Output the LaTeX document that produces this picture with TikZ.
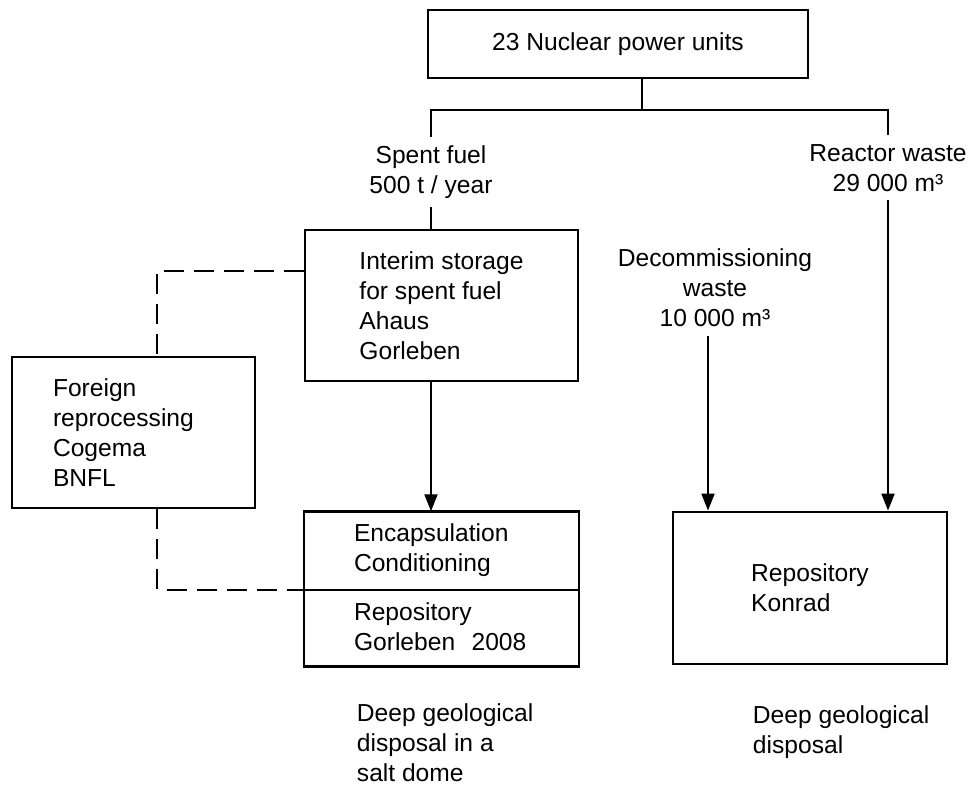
\documentclass[tikz,border=0pt]{standalone}
\usepackage{fontspec}
\setmainfont{Liberation Sans}
\usetikzlibrary{arrows.meta}

\begin{document}
\begin{tikzpicture}[line width=1.1pt, font=\fontsize{14}{17}\selectfont,
    box/.style={draw, line width=1.6pt, align=left},
    part/.style={align=left, text width=3.5cm, minimum width=5.46cm, minimum height=1.53cm},
    lbl/.style={align=center, inner sep=0.16cm},
    arr/.style={-{Triangle[length=0.34cm,width=0.26cm]}},
    dashline/.style={dash pattern=on 0.4cm off 0.2cm}]
    \useasboundingbox (0,0) rectangle (19.42,15.8);
    \node[box, align=center, minimum width=7.6cm, minimum height=1.36cm] (units) at (12.36, 14.92) {23 Nuclear power units};
    \coordinate (split) at (12.84, 13.6);
    \node[lbl] (spent) at (8.62, 12.36) {Spent fuel\\500 t / year};
    \node[lbl] (reactor) at (17.76, 12.44) {Reactor waste\\29 000 m³};
    \node[lbl] (decom) at (14.3, 10.04) {Decommissioning\\waste\\10 000 m³};
    \node[box, minimum width=5.46cm, minimum height=3.02cm] (interim) at (8.83, 9.69) {Interim storage\\for spent fuel\\Ahaus\\Gorleben};
    \node[box, text width=3.22cm, minimum width=4.86cm, minimum height=3.02cm] (foreign) at (2.67, 7.15) {Foreign\\reprocessing\\Cogema\\BNFL};
    \node[part] (encap) at (8.83, 4.79) {Encapsulation\\Conditioning};
    \node[part] (gorleben) at (8.83, 3.26) {Repository\\Gorleben\ \ 2008};
    \draw[line width=1.6pt] (encap.north west) rectangle (gorleben.south east);
    \draw (encap.south west) -- (encap.south east);
    \node[box, minimum width=5.48cm, minimum height=3.04cm] (konrad) at (16.2, 4.04) {Repository\\Konrad};
    \node[anchor=west, align=left, inner sep=0pt] (salt) at (7.12, 0.94) {Deep geological\\disposal in a\\salt dome};
    \node[anchor=west, align=left, inner sep=0pt] (deep) at (15.04, 1.16) {Deep geological\\disposal};
    \draw (units.south -| split) -- (split);
    \draw (spent.north) |- (split) -| (reactor.north);
    \draw (spent.south) -- (spent.south |- interim.north);
    \draw[arr] (interim.south -| spent.south) -- (encap.north -| spent.south);
    \draw[arr] ([xshift=-0.14cm]decom.south) -- ([xshift=-0.14cm]decom.south |- konrad.north);
    \draw[arr] (reactor.south) -- (reactor.south |- konrad.north);
    \draw[dashline] ([yshift=-0.84cm]interim.north west) -| ([xshift=0.47cm]foreign.north);
    \draw[dashline] ([xshift=0.47cm]foreign.south) |- (encap.south west);
\end{tikzpicture}
\end{document}
